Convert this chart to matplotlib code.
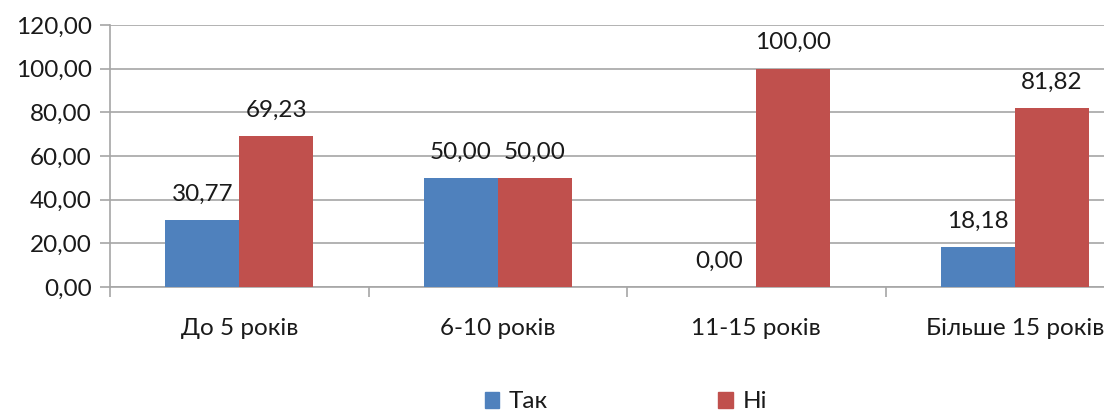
import matplotlib
matplotlib.use("Agg")
import matplotlib.pyplot as plt
import numpy as np
from matplotlib.patches import Patch
from matplotlib.ticker import MultipleLocator, FuncFormatter

# Stage groups and the share of answers in each
categories = ["До 5 років", "6-10 років", "11-15 років", "Більше 15 років"]
yes_values = [30.77, 50.00, 0.00, 18.18]
no_values = [69.23, 50.00, 100.00, 81.82]
series_names = ["Так", "Ні"]

BLUE = "#4F81BD"
RED = "#C0504D"
GRID = "#A6A6A6"
TEXT = "#1A1A1A"

plt.rcParams["font.family"] = ["Lato", "DejaVu Sans"]
FS = 17.5


def comma(v, pos=None):
    return f"{v:.2f}".replace(".", ",")


fig = plt.figure(figsize=(11.04, 4.18), dpi=100)
# axes runs past the right edge of the figure
ax = fig.add_axes([110 / 1104, 131 / 418, 1034 / 1104, 262 / 418])

x = np.arange(len(categories))
w = 0.286
bars_yes = ax.bar(x - w / 2, yes_values, w, color=BLUE, zorder=3)
bars_no = ax.bar(x + w / 2, no_values, w, color=RED, zorder=3)

for bars, vals in ((bars_yes, yes_values), (bars_no, no_values)):
    for b, v in zip(bars, vals):
        ax.annotate(comma(v), (b.get_x() + b.get_width() / 2, v),
                    xytext=(0, 14), textcoords="offset points",
                    ha="center", va="baseline", fontsize=FS, color=TEXT)

ax.set_xlim(-0.5, len(categories) - 0.5)
ax.set_ylim(0, 120)
ax.yaxis.set_major_locator(MultipleLocator(20))
ax.yaxis.set_major_formatter(FuncFormatter(comma))
ax.grid(axis="y", color=GRID, linewidth=1.2, zorder=0)

ax.set_xticks(x)
ax.set_xticklabels(categories)
ax.set_xticks(np.arange(-0.5, len(categories), 1.0), minor=True)
ax.tick_params(axis="x", which="major", length=0, pad=22, labelsize=FS, labelcolor=TEXT)
ax.tick_params(axis="x", which="minor", length=7, width=1.2, color=GRID)
ax.tick_params(axis="y", length=7, width=1.2, color=GRID, labelsize=FS, labelcolor=TEXT, pad=6)

for side in ("top", "right"):
    ax.spines[side].set_visible(False)
for side in ("left", "bottom"):
    ax.spines[side].set_color(GRID)
    ax.spines[side].set_linewidth(1.2)

handles = [Patch(color=BLUE), Patch(color=RED)]
fig.legend(handles, series_names, loc="center", bbox_to_anchor=(626 / 1104, 16 / 418),
           ncol=2, frameon=False, fontsize=FS, handlelength=0.6, handleheight=0.6,
           handletextpad=0.4, columnspacing=7.0, labelcolor=TEXT, borderpad=0.1)

fig.savefig("out.png", dpi=100)
